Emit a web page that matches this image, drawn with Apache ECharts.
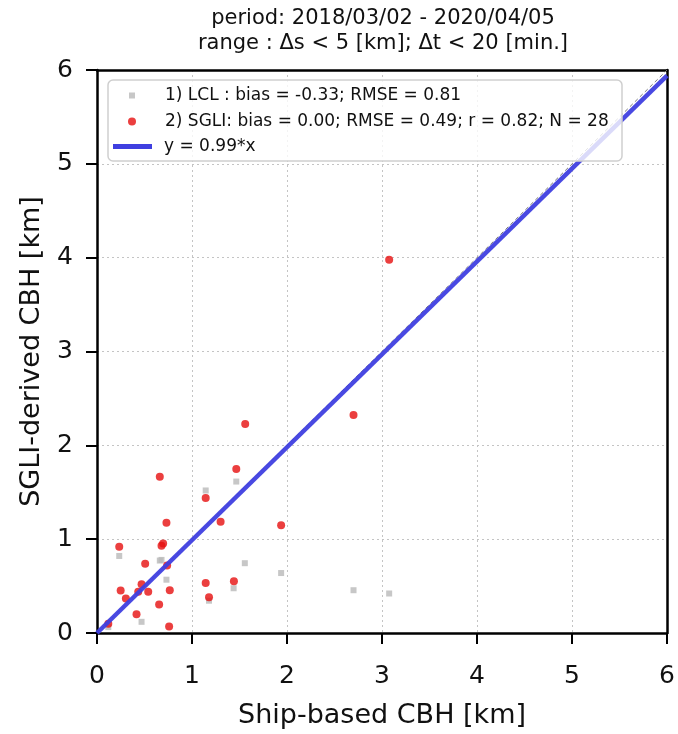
<!DOCTYPE html>
<html>
<head>
<meta charset="utf-8">
<script src="https://cdn.jsdelivr.net/npm/echarts@6/dist/echarts.min.js"></script>
<style>
html,body{margin:0;padding:0;background:#fff;}
#chart{width:678px;height:734px;}
</style>
</head>
<body>
<div id="chart"></div>
<script>
// ---- data ----
const titleLines = ['period: 2018/03/02 - 2020/04/05', 'range : \u0394s < 5 [km]; \u0394t < 20 [min.]'];
const xTicks = [0, 1, 2, 3, 4, 5, 6];
const yTicks = [0, 1, 2, 3, 4, 5, 6];

const lclName = '1) LCL : bias = -0.33; RMSE = 0.81';
const sgliName = '2) SGLI: bias = 0.00; RMSE = 0.49; r = 0.82; N = 28';
const fitName = 'y = 0.99*x';

// Ship-based CBH (x) and LCL (y), km
const lclShip = [0.119, 0.234, 0.469, 0.661, 0.679, 0.731, 1.144, 1.179, 1.438, 1.466, 1.556, 1.938, 2.700, 3.075];
const lclVal  = [0.063, 0.821, 0.119, 0.772, 0.779, 0.568, 1.519, 0.344, 0.477, 1.614, 0.744, 0.639, 0.456, 0.421];

// Ship-based CBH (x) and SGLI-derived CBH (y), km
const sgliShip = [0.661, 1.466, 1.144, 1.301, 1.938, 0.731, 0.234, 0.696, 0.679, 0.507, 0.738, 0.469, 0.249, 0.434,
                  0.539, 0.766, 0.304, 1.144, 1.441, 1.179, 0.654, 0.416, 0.759, 0.119, 1.560, 2.700, 3.075];
const sgliVal  = [1.666, 1.747, 1.439, 1.186, 1.147, 1.175, 0.919, 0.955, 0.930, 0.737, 0.719, 0.519, 0.453, 0.439,
                  0.439, 0.456, 0.368, 0.533, 0.551, 0.382, 0.305, 0.200, 0.070, 0.098, 2.228, 2.323, 3.979];

// regression line y = 0.99*x endpoints, and 1:1 reference line
const fitX = [0, 6];
const fitY = [0, 5.94];
const oneX = [0, 6];
const oneY = [0, 6];

// ---- chart ----
const FONT = 'DejaVu Sans';
const zip = (a, b) => a.map((v, i) => [v, b[i]]);
const plotLeft = 97, plotRight = 669;

const chart = echarts.init(document.getElementById('chart'), null, {renderer: 'canvas'});

const option = {
  backgroundColor: '#ffffff',
  animation: false,
  textStyle: {fontFamily: FONT},
  title: {
    text: titleLines.join('\n'),
    left: (plotLeft + plotRight) / 2,
    top: 6,
    padding: 0,
    textAlign: 'center',
    textStyle: {fontFamily: FONT, fontSize: 21, fontWeight: 'normal', color: '#111', lineHeight: 25, align: 'center'}
  },
  grid: {left: plotLeft, right: 678 - plotRight, top: 70, bottom: 94, containLabel: false},
  xAxis: [{
    type: 'value', min: 0, max: 6, interval: 1,
    name: 'Ship-based CBH [km]', nameLocation: 'middle', nameGap: 69,
    nameTextStyle: {fontFamily: FONT, fontSize: 27, color: '#111'},
    axisLine: {show: true, onZero: false, lineStyle: {color: '#000', width: 2.5}},
    axisTick: {show: true, inside: false, length: 11, lineStyle: {color: '#000', width: 2}},
    axisLabel: {fontFamily: FONT, fontSize: 25, color: '#111', margin: 31,
      formatter: v => xTicks.includes(v) ? String(v) : ''},
    splitLine: {show: true, lineStyle: {color: '#c4c4c4', width: 1, type: [2, 3]}}
  }, {
    type: 'value', min: 0, max: 6, position: 'top',
    axisLine: {show: true, onZero: false, lineStyle: {color: '#000', width: 2.5}},
    axisTick: {show: false}, axisLabel: {show: false}, splitLine: {show: false}
  }],
  yAxis: [{
    type: 'value', min: 0, max: 6, interval: 1,
    name: 'SGLI-derived CBH [km]', nameLocation: 'middle', nameGap: 52,
    nameTextStyle: {fontFamily: FONT, fontSize: 27, color: '#111'},
    axisLine: {show: true, onZero: false, lineStyle: {color: '#000', width: 2.5}},
    axisTick: {show: true, inside: false, length: 11, lineStyle: {color: '#000', width: 2}},
    axisLabel: {fontFamily: FONT, fontSize: 25, color: '#111', margin: 24,
      formatter: v => yTicks.includes(v) ? String(v) : ''},
    splitLine: {show: true, lineStyle: {color: '#c4c4c4', width: 1, type: [2, 3]}}
  }, {
    type: 'value', min: 0, max: 6, position: 'right',
    axisLine: {show: true, onZero: false, lineStyle: {color: '#000', width: 2.5}},
    axisTick: {show: false}, axisLabel: {show: false}, splitLine: {show: false}
  }],
  graphic: [{
    type: 'rect', z: 5,
    shape: {x: 108, y: 80, width: 514, height: 81, r: 5},
    style: {fill: 'rgba(255,255,255,0.8)', stroke: '#cfcfcf', lineWidth: 1.5}
  }],
  legend: [{
    data: [{name: lclName, icon: 'rect'}], left: 129, top: 87, padding: 0, z: 6,
    itemWidth: 6, itemHeight: 6,
    textStyle: {fontFamily: FONT, fontSize: 17, color: '#111', padding: [0, 0, 0, 25]}
  }, {
    data: [{name: sgliName, icon: 'circle'}], left: 128, top: 113, padding: 0, z: 6,
    itemWidth: 8, itemHeight: 8,
    textStyle: {fontFamily: FONT, fontSize: 17, color: '#111', padding: [0, 0, 0, 24]}
  }, {
    data: [{name: fitName, icon: 'rect'}], left: 113, top: 138, padding: 0, z: 6,
    itemWidth: 39, itemHeight: 5,
    textStyle: {fontFamily: FONT, fontSize: 17, color: '#111', padding: [0, 0, 0, 7]}
  }],
  series: [{
    name: '1:1', type: 'line', data: zip(oneX, oneY), showSymbol: false, silent: true,
    lineStyle: {color: '#7a7a7a', width: 1, type: [4, 3]}, z: 2
  }, {
    name: lclName, type: 'scatter', data: zip(lclShip, lclVal),
    symbol: 'rect', symbolSize: 6, itemStyle: {color: '#b9b9b9'}, z: 3
  }, {
    name: sgliName, type: 'scatter', data: zip(sgliShip, sgliVal),
    symbol: 'circle', symbolSize: 8, itemStyle: {color: '#e60f0f'}, z: 3
  }, {
    name: fitName, type: 'line', data: zip(fitX, fitY), showSymbol: false,
    itemStyle: {color: '#3f3fe0'},
    lineStyle: {color: '#3f3fe0', width: 4.5, opacity: 0.95}, z: 4
  }]
};
chart.setOption(option);
</script>
</body>
</html>
